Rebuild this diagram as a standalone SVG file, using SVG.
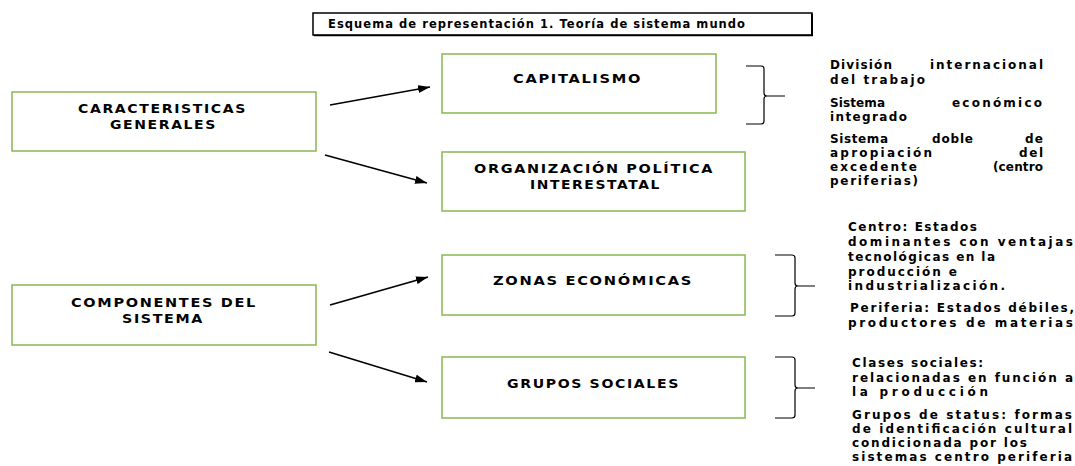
<svg xmlns="http://www.w3.org/2000/svg" width="1075" height="466" viewBox="0 0 1075 466">
  <style>
    .box { fill: #ffffff; stroke: #8fbc5a; stroke-width: 1.6; }
    .lbl { font-family: "DejaVu Sans", "Liberation Sans", sans-serif; font-weight: bold; font-size: 13px; letter-spacing: 1.5px; fill: #000; }
    .txt { font-family: "DejaVu Sans", "Liberation Sans", sans-serif; font-weight: bold; font-size: 12px; fill: #000; }
    .title { font-family: "DejaVu Sans", "Liberation Sans", sans-serif; font-weight: bold; font-size: 11.5px; fill: #000; }
    .conn { stroke: #000; stroke-width: 1.6; fill: none; }
    .brace { stroke: #000; stroke-width: 1.2; fill: none; }
  </style>
  <defs>
    <marker id="arrow" markerWidth="12" markerHeight="8" refX="12" refY="4" orient="auto" markerUnits="userSpaceOnUse">
      <path d="M0,0 L12,4 L0,8 Z" fill="#000"/>
    </marker>
  </defs>
  <rect width="1075" height="466" fill="#ffffff"/>

  <g id="title">
    <rect x="313" y="13" width="499" height="22" fill="#fff" stroke="#000" stroke-width="1.5"/>
    <line x1="812" y1="14" x2="812" y2="36" stroke="#000" stroke-width="2"/>
    <line x1="314" y1="35.5" x2="813" y2="35.5" stroke="#000" stroke-width="1.5"/>
    <text class="title" x="328" y="28" textLength="417" lengthAdjust="spacing">Esquema de representación 1. Teoría de sistema mundo</text>
  </g>

  <g id="node-caracteristicas">
    <rect class="box" x="12" y="92" width="304" height="59"/>
    <text class="lbl" x="78" y="113" textLength="169" lengthAdjust="spacingAndGlyphs">CARACTERISTICAS</text>
    <text class="lbl" x="110" y="129" textLength="107" lengthAdjust="spacingAndGlyphs">GENERALES</text>
  </g>

  <g id="node-componentes">
    <rect class="box" x="12" y="285" width="304" height="60"/>
    <text class="lbl" x="71" y="307" textLength="186" lengthAdjust="spacingAndGlyphs">COMPONENTES DEL</text>
    <text class="lbl" x="122" y="323" textLength="82" lengthAdjust="spacingAndGlyphs">SISTEMA</text>
  </g>

  <g id="node-capitalismo">
    <rect class="box" x="442" y="54" width="274" height="59"/>
    <text class="lbl" x="513" y="83" textLength="129" lengthAdjust="spacingAndGlyphs">CAPITALISMO</text>
  </g>

  <g id="node-organizacion">
    <rect class="box" x="442" y="152" width="303" height="59"/>
    <text class="lbl" x="474" y="173" textLength="240" lengthAdjust="spacingAndGlyphs">ORGANIZACIÓN POLÍTICA</text>
    <text class="lbl" x="530" y="189" textLength="131" lengthAdjust="spacingAndGlyphs">INTERESTATAL</text>
  </g>

  <g id="node-zonas">
    <rect class="box" x="442" y="255" width="303" height="60"/>
    <text class="lbl" x="493" y="285" textLength="200" lengthAdjust="spacingAndGlyphs">ZONAS ECONÓMICAS</text>
  </g>

  <g id="node-grupos">
    <rect class="box" x="442" y="357" width="303" height="61"/>
    <text class="lbl" x="507" y="388" textLength="173" lengthAdjust="spacingAndGlyphs">GRUPOS SOCIALES</text>
  </g>

  <g id="connectors">
    <line class="conn" x1="330" y1="105" x2="430" y2="87" marker-end="url(#arrow)"/>
    <line class="conn" x1="325" y1="155" x2="427" y2="183" marker-end="url(#arrow)"/>
    <line class="conn" x1="330" y1="305" x2="428" y2="277" marker-end="url(#arrow)"/>
    <line class="conn" x1="329" y1="352" x2="427" y2="382" marker-end="url(#arrow)"/>
  </g>

  <g id="brace-capitalismo">
    <path class="brace" d="M746,66 H761 Q764,66 764,69 V93 Q764,96 767,96 Q764,96 764,99 V121 Q764,124 761,124 H746 M767,96 H785"/>
  </g>
  <g id="brace-zonas">
    <path class="brace" d="M775,255 H792 Q795,255 795,258 V283 Q795,286 798,286 Q795,286 795,289 V313 Q795,316 792,316 H775 M798,286 H815"/>
  </g>
  <g id="brace-grupos">
    <path class="brace" d="M775,357 H792 Q795,357 795,360 V385 Q795,388 798,388 Q795,388 795,391 V415 Q795,418 792,418 H775 M798,388 H815"/>
  </g>

  <g id="notes-capitalismo">
    <text class="txt" x="830" y="69" textLength="62" lengthAdjust="spacing">División</text>
    <text class="txt" x="930" y="69" textLength="113" lengthAdjust="spacing">internacional</text>
    <text class="txt" x="830" y="84" textLength="95" lengthAdjust="spacing">del trabajo</text>
    <text class="txt" x="830" y="107" textLength="55" lengthAdjust="spacing">Sistema</text>
    <text class="txt" x="952" y="107" textLength="90" lengthAdjust="spacing">económico</text>
    <text class="txt" x="830" y="121" textLength="77" lengthAdjust="spacing">integrado</text>
    <text class="txt" x="830" y="143" textLength="58" lengthAdjust="spacing">Sistema</text>
    <text class="txt" x="932" y="143" textLength="41" lengthAdjust="spacing">doble</text>
    <text class="txt" x="1025" y="143" textLength="18" lengthAdjust="spacing">de</text>
    <text class="txt" x="830" y="157" textLength="102" lengthAdjust="spacing">apropiación</text>
    <text class="txt" x="1019" y="157" textLength="24" lengthAdjust="spacing">del</text>
    <text class="txt" x="830" y="171" textLength="87" lengthAdjust="spacing">excedente</text>
    <text class="txt" x="993" y="171" textLength="50" lengthAdjust="spacing">(centro</text>
    <text class="txt" x="830" y="185" textLength="88" lengthAdjust="spacing">periferias)</text>
  </g>

  <g id="notes-zonas">
    <text class="txt" x="848" y="231" textLength="129" lengthAdjust="spacing">Centro: Estados</text>
    <text class="txt" x="848" y="246" textLength="225" lengthAdjust="spacing">dominantes con ventajas</text>
    <text class="txt" x="848" y="261" textLength="147" lengthAdjust="spacing">tecnológicas en la</text>
    <text class="txt" x="848" y="276" textLength="109" lengthAdjust="spacing">producción e</text>
    <text class="txt" x="848" y="290" textLength="157" lengthAdjust="spacing">industrialización.</text>
    <text class="txt" x="850" y="312" textLength="224" lengthAdjust="spacing">Periferia: Estados débiles,</text>
    <text class="txt" x="848" y="327" textLength="225" lengthAdjust="spacing">productores de materias</text>
  </g>

  <g id="notes-grupos">
    <text class="txt" x="852" y="367" textLength="131" lengthAdjust="spacing">Clases sociales:</text>
    <text class="txt" x="852" y="382" textLength="221" lengthAdjust="spacing">relacionadas en función a</text>
    <text class="txt" x="852" y="396" textLength="136" lengthAdjust="spacing">la producción</text>
    <text class="txt" x="852" y="419" textLength="220" lengthAdjust="spacing">Grupos de status: formas</text>
    <text class="txt" x="852" y="433" textLength="220" lengthAdjust="spacing">de identificación cultural</text>
    <text class="txt" x="852" y="447" textLength="175" lengthAdjust="spacing">condicionada por los</text>
    <text class="txt" x="852" y="461" textLength="220" lengthAdjust="spacing">sistemas centro periferia</text>
  </g>
</svg>
